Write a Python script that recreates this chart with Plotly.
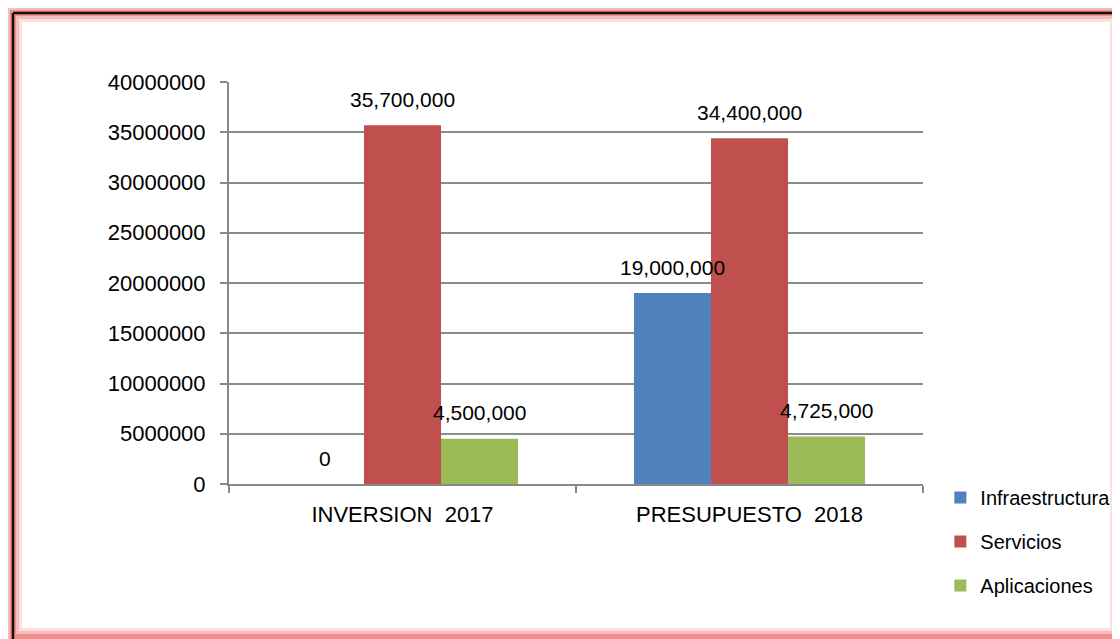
import plotly.graph_objects as go

categories = ["INVERSION  2017", "PRESUPUESTO  2018"]
series_names = ["Infraestructura", "Servicios", "Aplicaciones"]
infraestructura = [0, 19000000]
servicios = [35700000, 34400000]
aplicaciones = [4500000, 4725000]
colors = ["#4F81BD", "#C0504D", "#9BBB59"]
y_ticks = [0, 5000000, 10000000, 15000000, 20000000, 25000000, 30000000, 35000000, 40000000]

FONT = "Liberation Sans, Arial, sans-serif"
W, H = 1112, 631
ML, MR, MT, MB = 221, 197, 74, 155
BARGAP = 0.334

series = [infraestructura, servicios, aplicaciones]
fig = go.Figure()
for i, (name, vals) in enumerate(zip(series_names, series)):
    fig.add_trace(go.Bar(
        x=categories, y=vals, name=name,
        marker=dict(color=colors[i], line=dict(width=0)),
        legendgroup=name,
    ))

# data labels drawn on top of all bars, centred over each bar
plot_w = W - ML - MR
bar_px = plot_w / len(categories) * (1 - BARGAP) / len(series)
for i, vals in enumerate(series):
    for cat, v in zip(categories, vals):
        fig.add_annotation(
            x=cat, y=v, xref="x", yref="y", text=f"{v:,.0f}", showarrow=False,
            xshift=(i - (len(series) - 1) / 2) * bar_px, yshift=26,
            font=dict(family=FONT, size=21, color="#000000"),
            xanchor="center", yanchor="middle",
        )

# page body has an 8px margin, so the figure is 8px smaller and margins shifted
fig.update_layout(
    width=W, height=H,
    barmode="group", bargap=BARGAP, bargroupgap=0,
    paper_bgcolor="white", plot_bgcolor="white",
    margin=dict(l=ML, r=MR, t=MT, b=MB, autoexpand=False),
    font=dict(family=FONT, size=22, color="#000000"),
    legend=dict(x=1.025, xanchor="left", y=0.015, yanchor="top",
                font=dict(family=FONT, size=20, color="#000000"),
                tracegroupgap=15, itemwidth=30, traceorder="grouped",
                bgcolor="rgba(0,0,0,0)"),
    showlegend=True,
)
fig.update_xaxes(
    showline=True, linecolor="#888888", linewidth=2,
    ticks="outside", tickson="boundaries", ticklen=7, tickcolor="#888888", tickwidth=2,
    tickfont=dict(family=FONT, size=22), ticklabelstandoff=10,
)
fig.update_yaxes(
    range=[0, 40000000], tickvals=y_ticks, tickformat="d",
    showgrid=True, gridcolor="#8c8c8c", gridwidth=2,
    showline=True, linecolor="#888888", linewidth=2,
    ticks="outside", ticklen=7, tickcolor="#888888", tickwidth=2,
    tickfont=dict(family=FONT, size=22), zeroline=False, ticklabelstandoff=10,
)

# decorative frame with pink glow
x0, x1 = (13 - 229) / 694, (1119 - 229) / 694
y1, y0 = (484 - 13) / 402, (484 - 637) / 402
for w, c in [(18, "rgba(240,130,130,0.25)"), (12, "rgba(240,120,120,0.35)"), (6, "rgba(235,110,110,0.6)")]:
    fig.add_shape(type="rect", xref="paper", yref="paper", x0=x0, x1=x1, y0=y0, y1=y1,
                  line=dict(color=c, width=w), fillcolor="rgba(0,0,0,0)", layer="below")
fig.add_shape(type="line", xref="paper", yref="paper", x0=x0, x1=x0, y0=y0 - 0.05, y1=y1,
              line=dict(color="#111111", width=2.5), layer="below")
fig.add_shape(type="line", xref="paper", yref="paper", x0=x0, x1=x1 + 0.02, y0=y1, y1=y1,
              line=dict(color="#111111", width=2.5), layer="below")

fig.write_html("out.html")
